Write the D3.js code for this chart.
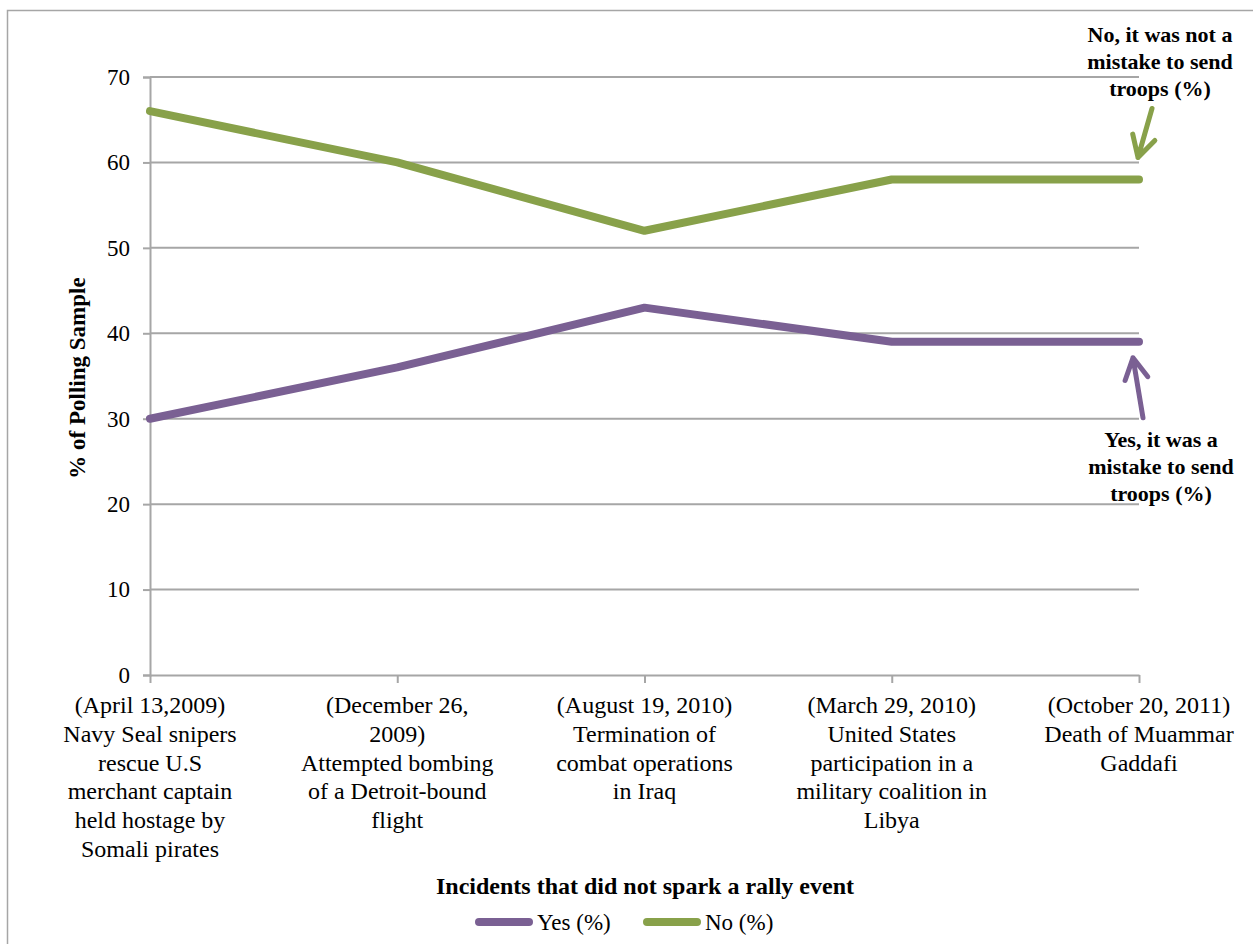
<!DOCTYPE html>
<html>
<head>
<meta charset="utf-8">
<script src="https://cdn.jsdelivr.net/npm/d3@7"></script>
<style>
  html, body { margin: 0; padding: 0; background: #fff; }
  svg { display: block; }
  text { font-family: "Liberation Serif", "Times New Roman", serif; fill: #000; }
</style>
</head>
<body>
<svg id="chart" width="1253" height="944"></svg>
<script>
// ---- data ----
const categories = [
  "(April 13,2009) Navy Seal snipers rescue U.S merchant captain held hostage by Somali pirates",
  "(December 26, 2009) Attempted bombing of a Detroit-bound flight",
  "(August 19, 2010) Termination of combat operations in Iraq",
  "(March 29, 2010) United States participation in a military coalition in Libya",
  "(October 20, 2011) Death of Muammar Gaddafi"
];
const categoryLines = [
  ["(April 13,2009)", "Navy Seal snipers", "rescue U.S", "merchant captain", "held hostage by", "Somali pirates"],
  ["(December 26,", "2009)", "Attempted bombing", "of a Detroit-bound", "flight"],
  ["(August 19, 2010)", "Termination of", "combat operations", "in Iraq"],
  ["(March 29, 2010)", "United States", "participation in a", "military coalition in", "Libya"],
  ["(October 20, 2011)", "Death of Muammar", "Gaddafi"]
];
const yesValues = [30, 36, 43, 39, 39];
const noValues = [66, 60, 52, 58, 58];
const seriesNames = ["Yes (%)", "No (%)"];
const yTicks = [0, 10, 20, 30, 40, 50, 60, 70];
const yTitle = "% of Polling Sample";
const xTitle = "Incidents that did not spark a rally event";
const noNote = ["No, it was not a", "mistake to send", "troops (%)"];
const yesNote = ["Yes, it was a", "mistake to send", "troops (%)"];

// ---- styles ----
const COLORS = { yes: "#7A6093", no: "#88A14A" };
const GRID = "#a6a6a6";
const FONT = '"Liberation Serif", "Times New Roman", serif';

const svg = d3.select("#chart");

// outer frame
svg.append("rect")
  .attr("x", 7.5).attr("y", 10.5)
  .attr("width", 1260).attr("height", 950)
  .attr("fill", "none").attr("stroke", "#a6a6a6").attr("stroke-width", 1.5);

const x = d3.scalePoint().domain(categories).range([150, 1139]);
const y = d3.scaleLinear().domain([0, 70]).range([675, 77]);

// gridlines
svg.append("g")
  .selectAll("line")
  .data(yTicks.filter(d => d !== 0))
  .join("line")
  .attr("x1", 150).attr("x2", 1139)
  .attr("y1", d => y(d)).attr("y2", d => y(d))
  .attr("stroke", GRID).attr("stroke-width", 2);

// y axis
const yAxis = svg.append("g")
  .attr("transform", "translate(150,0)")
  .call(d3.axisLeft(y).tickValues(yTicks).tickSize(7).tickPadding(13));
yAxis.attr("font-family", FONT);
yAxis.select(".domain").attr("stroke", GRID).attr("stroke-width", 2);
yAxis.selectAll(".tick line").attr("stroke", GRID).attr("stroke-width", 2);
yAxis.selectAll(".tick text")
  .style("font-family", FONT)
  .style("font-size", "23px").attr("fill", "#000");

// x axis
const xAxis = svg.append("g")
  .attr("transform", "translate(0,675)")
  .call(d3.axisBottom(x).tickSize(8).tickSizeOuter(0).tickFormat(""));
xAxis.select(".domain").attr("stroke", GRID).attr("stroke-width", 2);
xAxis.selectAll(".tick line").attr("stroke", GRID).attr("stroke-width", 2);

// x category labels (multi-line)
const labelG = svg.append("g");
categories.forEach((c, i) => {
  const t = labelG.append("text")
    .attr("text-anchor", "middle")
    .style("font-size", "24px");
  categoryLines[i].forEach((line, j) => {
    t.append("tspan")
      .attr("x", x(c))
      .attr("y", 713 + j * 28.8)
      .text(line);
  });
});

// lines
const lineGen = d3.line()
  .x((d, i) => x(categories[i]))
  .y(d => y(d));

svg.append("path")
  .datum(noValues)
  .attr("d", lineGen)
  .attr("fill", "none").attr("stroke", COLORS.no)
  .attr("stroke-width", 8).attr("stroke-linejoin", "round").attr("stroke-linecap", "round");

svg.append("path")
  .datum(yesValues)
  .attr("d", lineGen)
  .attr("fill", "none").attr("stroke", COLORS.yes)
  .attr("stroke-width", 8).attr("stroke-linejoin", "round").attr("stroke-linecap", "round");

// axis titles
svg.append("text")
  .attr("transform", "translate(85,378) rotate(-90)")
  .attr("text-anchor", "middle")
  .style("font-size", "23px").style("font-weight", "bold")
  .text(yTitle);

svg.append("text")
  .attr("x", 645).attr("y", 894)
  .attr("text-anchor", "middle")
  .style("font-size", "24px").style("font-weight", "bold")
  .text(xTitle);

// legend
const legend = svg.append("g");
const legendItems = [
  { name: seriesNames[0], color: COLORS.yes, x0: 479 },
  { name: seriesNames[1], color: COLORS.no, x0: 647 }
];
legendItems.forEach(it => {
  legend.append("line")
    .attr("x1", it.x0).attr("x2", it.x0 + 50)
    .attr("y1", 922).attr("y2", 922)
    .attr("stroke", it.color).attr("stroke-width", 8).attr("stroke-linecap", "round");
  legend.append("text")
    .attr("x", it.x0 + 58).attr("y", 930)
    .style("font-size", "23px")
    .text(it.name);
});

// annotations
const last = categories.length - 1;
const xl = x(categories[last]);
function arrow(g, x1, y1, x2, y2, color) {
  const ang = Math.atan2(y2 - y1, x2 - x1);
  const len = 24, spread = 0.5;
  const a1 = [x2 - len * Math.cos(ang - spread), y2 - len * Math.sin(ang - spread)];
  const a2 = [x2 - len * Math.cos(ang + spread), y2 - len * Math.sin(ang + spread)];
  g.append("path")
    .attr("d", `M${x1},${y1}L${x2},${y2}M${a1[0]},${a1[1]}L${x2},${y2}L${a2[0]},${a2[1]}`)
    .attr("fill", "none").attr("stroke", color)
    .attr("stroke-width", 5).attr("stroke-linecap", "round").attr("stroke-linejoin", "round");
}
const ann = svg.append("g");
// No arrow (pointing down to the No line)
arrow(ann, xl + 13, y(noValues[last]) - 71, xl - 1, y(noValues[last]) - 22, COLORS.no);
// Yes arrow (pointing up to the Yes line)
arrow(ann, xl + 4, y(yesValues[last]) + 76, xl - 6, y(yesValues[last]) + 16, COLORS.yes);

const noT = ann.append("text").attr("text-anchor", "middle")
  .style("font-size", "22px").style("font-weight", "bold");
noNote.forEach((l, j) => noT.append("tspan").attr("x", 1160).attr("y", 42 + j * 27).text(l));

const yesT = ann.append("text").attr("text-anchor", "middle")
  .style("font-size", "22px").style("font-weight", "bold");
yesNote.forEach((l, j) => yesT.append("tspan").attr("x", 1161).attr("y", 447 + j * 27).text(l));
</script>
</body>
</html>
